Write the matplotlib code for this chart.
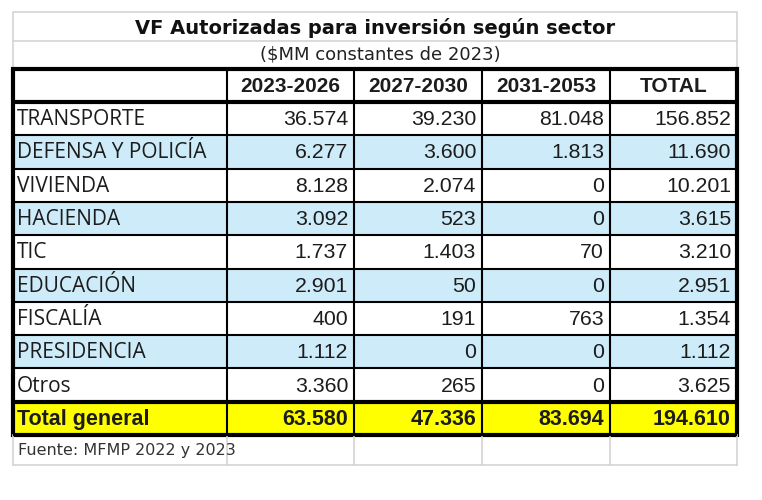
import matplotlib
matplotlib.use("Agg")
import matplotlib.pyplot as plt
from matplotlib.patches import Rectangle

title = "VF Autorizadas para inversión según sector"
subtitle = "($MM constantes de 2023)"
columns = ["2023-2026", "2027-2030", "2031-2053", "TOTAL"]
sectors = ["TRANSPORTE", "DEFENSA Y POLICÍA", "VIVIENDA", "HACIENDA", "TIC",
           "EDUCACIÓN", "FISCALÍA", "PRESIDENCIA", "Otros"]
v_2023_2026 = ["36.574", "6.277", "8.128", "3.092", "1.737", "2.901", "400", "1.112", "3.360"]
v_2027_2030 = ["39.230", "3.600", "2.074", "523", "1.403", "50", "191", "0", "265"]
v_2031_2053 = ["81.048", "1.813", "0", "0", "70", "0", "763", "0", "0"]
v_total = ["156.852", "11.690", "10.201", "3.615", "3.210", "2.951", "1.354", "1.112", "3.625"]
total_label = "Total general"
total_values = ["63.580", "47.336", "83.694", "194.610"]
source = "Fuente: MFMP 2022 y 2023"

BLUE = "#cdebf8"
YELLOW = "#ffff00"
GRID = "#d4d4d4"
INK = "#1c1c1c"

# pixel layout
col_x = [13, 227, 354, 482, 610, 737]
y_title, y_sub, y_head = 12, 41, 69
row_h = 33.3
y_first = 102

fig = plt.figure(figsize=(7.62, 5.0), dpi=100)
ax = fig.add_axes([0, 0, 1, 1])
ax.set_xlim(0, 762)
ax.set_ylim(500, 0)
ax.axis("off")

# title and subtitle rows (light grid)
ax.add_patch(Rectangle((col_x[0], y_title), col_x[-1] - col_x[0], y_head - y_title,
                       facecolor="white", edgecolor=GRID, lw=1.2))
ax.plot([col_x[0], col_x[-1]], [y_sub, y_sub], color=GRID, lw=1.2)
ax.text((col_x[0] + col_x[-1]) / 2, (y_title + y_sub) / 2 + 1, title, ha="center", va="center",
        fontsize=14, fontweight="bold", family="DejaVu Sans", color="#111111")
ax.text((col_x[0] + col_x[-1]) / 2 + 5, (y_sub + y_head) / 2, subtitle, ha="center", va="center",
        fontsize=13, family="DejaVu Sans", color="#222222")

n_rows = len(sectors) + 1
y_end = y_first + n_rows * row_h

# row backgrounds
for i, name in enumerate(sectors):
    y0 = y_first + i * row_h
    face = BLUE if i % 2 == 1 else "white"
    ax.add_patch(Rectangle((col_x[0], y0), col_x[-1] - col_x[0], row_h, facecolor=face, edgecolor="none"))
y_tot = y_first + len(sectors) * row_h
ax.add_patch(Rectangle((col_x[0], y_tot), col_x[-1] - col_x[0], row_h, facecolor=YELLOW, edgecolor="none"))

# footer row (light grid)
y_foot = y_end + 30
for x in col_x:
    ax.plot([x, x], [y_end, y_foot], color=GRID, lw=1.2)
ax.plot([col_x[0], col_x[-1]], [y_foot, y_foot], color=GRID, lw=1.2)
ax.text(col_x[0] + 5, (y_end + y_foot) / 2 + 1, source, ha="left", va="center",
        fontsize=11.5, family="DejaVu Sans", color="#333333")

# header text
for j, c in enumerate(columns):
    ax.text((col_x[j + 1] + col_x[j + 2]) / 2, (y_head + y_first) / 2 + 1, c, ha="center", va="center",
            fontsize=15, fontweight="bold", family="Liberation Sans", color=INK)

# body text
series = [v_2023_2026, v_2027_2030, v_2031_2053, v_total]
for i, name in enumerate(sectors):
    yc = y_first + (i + 0.5) * row_h + 1
    ax.text(col_x[0] + 4, yc, name, ha="left", va="center", fontsize=15,
            family="Open Sans", color=INK)
    for j, vals in enumerate(series):
        ax.text(col_x[j + 2] - 6, yc, vals[i], ha="right", va="center", fontsize=15.3,
                family="Liberation Sans", color=INK)

yc = y_tot + row_h / 2 + 1
ax.text(col_x[0] + 4, yc, total_label, ha="left", va="center", fontsize=15.5,
        fontweight="bold", family="Liberation Sans", color=INK)
for j, v in enumerate(total_values):
    ax.text(col_x[j + 2] - 6, yc, v, ha="right", va="center", fontsize=15.5,
            fontweight="bold", family="Liberation Sans", color=INK)

# grid lines of main table
for k in range(n_rows + 1):
    y = y_first + k * row_h
    lw = 3 if k in (0, n_rows - 1) else 1.5
    ax.plot([col_x[0], col_x[-1]], [y, y], color="black", lw=lw, solid_capstyle="butt")
for x in col_x[1:-1]:
    ax.plot([x, x], [y_head, y_end], color="black", lw=1.5)
ax.add_patch(Rectangle((col_x[0], y_head), col_x[-1] - col_x[0], y_end - y_head,
                       facecolor="none", edgecolor="black", lw=3))

fig.savefig("out.png", dpi=100)
